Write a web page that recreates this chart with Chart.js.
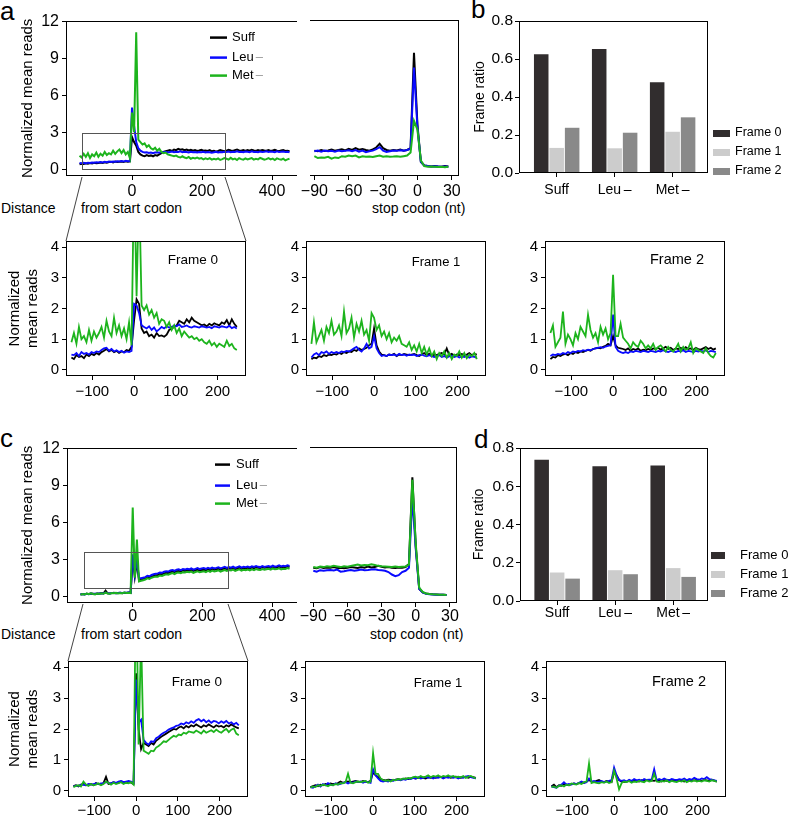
<!DOCTYPE html>
<html>
<head>
<meta charset="utf-8">
<script src="https://cdn.jsdelivr.net/npm/chart.js@4.4.0/dist/chart.umd.min.js"></script>
<style>
  html, body { margin: 0; padding: 0; background: #fff; overflow: hidden; }
  #fig { position: relative; width: 789px; height: 815px; font-family: "Liberation Sans", Arial, sans-serif; color: #000; }
  #fig canvas { position: absolute; }
  #fig svg { position: absolute; left: 0; top: 0; }
  .lbl { position: absolute; line-height: 1; white-space: nowrap; }
</style>
</head>
<body>
<div id="fig">
  <svg width="789" height="815">
    <g stroke="#444" stroke-width="1" fill="none">
      <line x1="82" y1="177" x2="66" y2="241" />
      <line x1="225" y1="177" x2="246" y2="241" />
      <line x1="83" y1="604" x2="68" y2="661" />
      <line x1="228" y1="604" x2="248" y2="661" />
    </g>
  </svg>
  <div class="lbl" style="left:0px;top:-2px;font-size:26px">a</div>
  <div class="lbl" style="left:471px;top:-4px;font-size:26px">b</div>
  <div class="lbl" style="left:0px;top:425px;font-size:26px">c</div>
  <div class="lbl" style="left:474px;top:426px;font-size:26px">d</div>
  <div class="lbl" style="left:1px;top:201px;font-size:14px">Distance</div>
  <div class="lbl" style="left:81px;top:201px;font-size:14px">from start codon</div>
  <div class="lbl" style="left:372px;top:201px;font-size:14px">stop codon (nt)</div>
  <div class="lbl" style="left:1px;top:627px;font-size:14px">Distance</div>
  <div class="lbl" style="left:81px;top:627px;font-size:14px">from start codon</div>
  <div class="lbl" style="left:370px;top:627px;font-size:14px">stop codon (nt)</div>
</div>
<script>
// ---- categories, names, ticks ----
const strains = ['Suff', 'Leu', 'Met'];
const strainLabels = ['Suff', 'Leu\u2009\u2013', 'Met\u2009\u2013'];
const strainPos = [1, 2, 3];
const frameNames = ['Frame 0', 'Frame 1', 'Frame 2'];

const startTicks = [0, 200, 400];
const stopTicks = [-90, -60, -30, 0, 30];
const frameTicks = [-100, 0, 100, 200];
const readTicks = [0, 3, 6, 9, 12];
const frameReadTicks = [0, 1, 2, 3, 4];
const ratioTicks = [0, 0.2, 0.4, 0.6, 0.8];

// nt positions
const startX = [-150,-144,-138,-132,-126,-120,-114,-108,-102,-96,-90,-84,-78,-72,-66,-60,-54,-48,-42,-36,
  -30,-24,-18,-12,-6,0,6,12,18,24,30,36,42,48,54,60,66,72,78,84,90,96,102,108,114,120,126,132,138,144,
  150,156,162,168,174,180,186,192,198,204,210,216,222,228,234,240,246,252,258,264,270,276,282,288,294,
  300,306,312,318,324,330,336,342,348,354,360,366,372,378,384,390,396,402,408,414,420,426,432,438,444,450];
const frameX = [-150,-144,-138,-132,-126,-120,-114,-108,-102,-96,-90,-84,-78,-72,-66,-60,-54,-48,-42,-36,
  -30,-24,-18,-12,-6,0,6,12,18,24,30,36,42,48,54,60,66,72,78,84,90,96,102,108,114,120,126,132,138,144,
  150,156,162,168,174,180,186,192,198,204,210,216,222,228,234,240,246];
const stopX = [-90,-87,-84,-81,-78,-75,-72,-69,-66,-63,-60,-57,-54,-51,-48,-45,-42,-39,-36,-33,
  -30,-27,-24,-21,-18,-15,-12,-9,-6,-3,0,3,6,9,12,15,18,21,24,27];

// ---- panel a, start codon ----
const aStartSuff = [0.40,0.45,0.42,0.48,0.44,0.50,0.46,0.52,0.48,0.50,
  0.55,0.50,0.56,0.52,0.58,0.60,0.55,0.62,0.58,0.60,
  0.62,0.58,0.65,0.60,0.64, 2.6,2.2,1.9,1.4,1.2,
  1.10,1.05,1.15,1.08,1.12,1.05,1.15,1.10,1.20,1.30,
  1.40,1.45,1.50,1.55,1.48,1.60,1.55,1.65,1.58,1.62,
  1.55,1.60,1.52,1.58,1.50,1.55,1.48,1.52,1.58,1.50,
  1.52,1.48,1.55,1.45,1.50,1.42,1.48,1.55,1.50,1.45,
  1.50,1.58,1.52,1.48,1.55,1.60,1.52,1.50,1.56,1.48,
  1.55,1.50,1.58,1.52,1.48,1.55,1.50,1.56,1.52,1.50,
  1.55,1.48,1.52,1.58,1.50,1.46,1.52,1.55,1.48,1.50,1.45];
const aStartLeu = [0.50,0.48,0.52,0.47,0.53,0.50,0.55,0.52,0.56,0.54,
  0.58,0.55,0.60,0.57,0.62,0.58,0.63,0.60,0.65,0.62,
  0.66,0.62,0.68,0.64,0.66, 5.0,3.5,2.2,1.7,1.5,
  1.40,1.35,1.38,1.32,1.36,1.30,1.35,1.38,1.34,1.40,
  1.38,1.42,1.36,1.40,1.44,1.38,1.42,1.40,1.45,1.38,
  1.42,1.40,1.36,1.42,1.38,1.40,1.35,1.40,1.38,1.42,
  1.36,1.40,1.38,1.34,1.38,1.42,1.36,1.40,1.38,1.42,
  1.40,1.44,1.38,1.42,1.40,1.45,1.40,1.42,1.38,1.44,
  1.42,1.38,1.45,1.40,1.42,1.38,1.44,1.40,1.42,1.45,
  1.40,1.44,1.42,1.38,1.45,1.40,1.42,1.44,1.40,1.42,1.38];
const aStartMet = [1.10,0.95,1.25,1.00,1.30,0.90,1.20,1.05,1.35,1.00,
  1.25,1.10,1.40,1.15,1.30,1.20,1.50,1.25,1.45,1.60,
  1.30,1.55,1.20,1.40,0.90, 4.6,3.0,11.1,2.4,2.2,
  2.00,2.10,1.80,1.95,1.70,1.60,1.75,1.50,1.65,1.40,
  1.30,1.35,1.20,1.15,1.10,1.05,1.10,1.00,0.95,1.05,
  0.95,0.90,1.00,0.85,0.92,0.88,0.95,0.85,0.90,0.80,
  0.88,0.82,0.90,0.78,0.85,0.80,0.88,0.75,0.82,0.90,
  0.85,0.78,0.92,0.80,0.86,0.75,0.90,0.82,0.78,0.88,
  0.80,0.85,0.90,0.78,0.84,0.80,0.92,0.85,0.78,0.82,
  0.90,0.80,0.86,0.75,0.88,0.82,0.78,0.85,0.72,0.80,0.85];

// ---- panel a, stop codon ----
const aStopSuff = [1.50,1.45,1.55,1.48,1.52,1.58,1.50,1.55,1.60,1.52,
  1.65,1.55,1.70,1.58,1.62,1.55,1.50,1.60,1.75,2.05,
  1.70,1.55,1.50,1.55,1.52,1.58,1.50,1.55,1.70,9.4,
  3.6,0.6,0.3,0.25,0.22,0.25,0.22,0.20,0.25,0.22];
const aStopLeu = [1.45,1.50,1.42,1.50,1.45,1.48,1.42,1.50,1.45,1.48,
  1.52,1.45,1.55,1.42,1.50,1.38,1.45,1.50,1.62,1.78,
  1.50,1.40,1.45,1.50,1.48,1.52,1.50,1.55,1.65,8.2,
  3.4,0.6,0.3,0.25,0.22,0.24,0.22,0.20,0.22,0.20];
const aStopMet = [1.05,0.90,0.95,0.92,1.00,0.85,0.95,0.90,1.05,1.00,
  1.10,1.05,1.10,0.95,1.05,1.00,1.02,0.98,1.05,1.10,
  1.00,1.05,1.00,1.02,1.05,1.00,1.05,1.10,1.35,3.9,
  3.2,0.7,0.25,0.20,0.22,0.20,0.18,0.20,0.15,0.20];

// ---- panel a, frames ----
const aF0Suff = [0.40,0.35,0.48,0.42,0.45,0.38,0.50,0.45,0.52,0.48,
  0.55,0.50,0.58,0.62,0.68,0.60,0.65,0.58,0.62,0.55,
  0.60,0.58,0.65,0.62,0.75, 1.6,2.3,2.15,1.35,1.20,
  1.25,1.10,1.15,1.05,1.20,1.10,1.12,1.08,1.15,1.30,
  1.35,1.40,1.45,1.60,1.55,1.50,1.65,1.55,1.70,1.60,
  1.55,1.50,1.45,1.48,1.42,1.50,1.45,1.52,1.48,1.45,
  1.55,1.50,1.62,1.45,1.65,1.50,1.40];
const aF0Leu = [0.50,0.48,0.55,0.45,0.58,0.52,0.55,0.50,0.58,0.55,
  0.60,0.58,0.65,0.70,0.72,0.62,0.68,0.60,0.64,0.58,
  0.62,0.56,0.60,0.58,0.62, 2.15,2.1,1.85,1.45,1.40,
  1.35,1.42,1.30,1.38,1.25,1.32,1.40,1.35,1.42,1.38,
  1.40,1.45,1.42,1.48,1.40,1.42,1.45,1.40,1.38,1.42,
  1.40,1.38,1.42,1.40,1.38,1.40,1.36,1.42,1.40,1.38,
  1.42,1.40,1.38,1.44,1.36,1.40,1.35];
const aF0Met = [0.90,1.20,0.85,1.40,1.00,1.10,0.90,1.30,0.95,1.25,
  1.05,1.20,1.40,1.05,1.60,1.25,1.10,1.70,1.20,1.45,
  1.10,1.35,1.00,1.55,0.80, 6.5,2.4,6.0,2.10,1.95,
  2.10,1.80,1.95,1.70,1.85,1.50,1.65,1.60,1.40,1.55,
  1.30,1.45,1.20,1.35,1.10,1.25,1.15,1.05,1.10,1.00,
  1.05,0.95,1.00,0.90,0.85,0.95,0.80,0.88,0.75,0.85,
  0.80,0.75,0.95,0.78,0.85,0.70,0.65];

const aF1Suff = [0.35,0.40,0.38,0.45,0.42,0.48,0.45,0.50,0.48,0.52,
  0.50,0.55,0.52,0.58,0.55,0.60,0.58,0.65,0.62,0.70,
  0.65,0.68,0.72,0.80,0.85, 1.35,0.80,0.60,0.50,0.48,
  0.45,0.50,0.48,0.52,0.45,0.50,0.48,0.52,0.50,0.48,
  0.50,0.52,0.48,0.45,0.50,0.55,0.48,0.52,0.45,0.50,
  0.48,0.52,0.55,0.50,0.70,0.48,0.52,0.45,0.50,0.48,
  0.52,0.48,0.50,0.55,0.48,0.52,0.50];
const aF1Leu = [0.40,0.50,0.55,0.48,0.58,0.55,0.60,0.52,0.58,0.55,
  0.58,0.55,0.60,0.58,0.62,0.60,0.65,0.70,0.75,0.65,
  0.60,0.70,0.85,0.70,0.75, 1.10,0.70,0.55,0.45,0.48,
  0.45,0.50,0.48,0.50,0.46,0.52,0.48,0.50,0.46,0.50,
  0.48,0.50,0.45,0.48,0.50,0.46,0.44,0.48,0.45,0.42,
  0.45,0.48,0.42,0.45,0.40,0.44,0.46,0.42,0.45,0.40,
  0.44,0.42,0.46,0.40,0.44,0.42,0.40];
const aF1Met = [0.85,1.55,0.90,1.10,1.30,0.95,1.40,1.20,1.60,1.15,
  1.25,1.45,1.10,1.90,1.20,1.35,1.70,1.05,1.50,1.25,
  1.60,1.15,1.30,0.95,1.85, 1.70,1.30,1.45,1.10,1.25,
  1.00,1.20,0.90,1.05,0.95,1.10,0.85,0.80,0.75,0.90,
  0.65,0.80,0.60,0.85,0.55,0.75,0.50,0.70,0.45,0.60,
  0.35,0.55,0.45,0.60,0.40,0.55,0.35,0.50,0.45,0.60,
  0.40,0.55,0.38,0.50,0.45,0.55,0.35];

const aF2Suff = [0.35,0.42,0.40,0.48,0.45,0.50,0.52,0.48,0.55,0.52,
  0.58,0.55,0.60,0.58,0.62,0.65,0.62,0.68,0.70,0.72,
  0.70,0.75,0.78,0.85,0.80, 1.10,0.80,0.72,0.70,0.68,
  0.65,0.70,0.62,0.68,0.65,0.70,0.62,0.66,0.64,0.68,
  0.65,0.70,0.68,0.72,0.66,0.70,0.75,0.68,0.72,0.65,
  0.70,0.68,0.72,0.66,0.74,0.68,0.70,0.65,0.72,0.68,
  0.66,0.70,0.74,0.68,0.72,0.66,0.70];
const aF2Leu = [0.45,0.50,0.48,0.52,0.50,0.55,0.52,0.58,0.55,0.60,
  0.58,0.62,0.60,0.64,0.62,0.66,0.64,0.68,0.70,0.72,
  0.74,0.72,0.76,0.78,0.80, 1.80,0.75,0.62,0.58,0.55,
  0.58,0.55,0.60,0.58,0.62,0.60,0.58,0.62,0.60,0.58,
  0.62,0.60,0.58,0.62,0.60,0.64,0.60,0.58,0.62,0.60,
  0.58,0.62,0.60,0.64,0.58,0.62,0.60,0.58,0.62,0.60,
  0.62,0.60,0.64,0.58,0.62,0.60,0.58];
const aF2Met = [1.20,1.45,0.75,0.90,1.05,1.90,0.85,1.15,1.00,0.80,
  1.20,1.00,1.40,1.25,1.10,1.80,1.30,1.05,1.20,0.90,
  1.40,1.15,1.35,1.00,1.20, 3.10,1.10,1.10,1.50,1.05,
  0.95,0.85,0.70,0.90,0.80,0.75,0.95,0.85,0.70,0.80,
  0.70,0.85,0.65,0.75,0.80,0.70,0.60,0.75,0.65,0.60,
  0.70,0.85,0.60,0.75,0.65,0.70,0.90,0.55,0.70,0.65,
  0.60,0.55,0.70,0.55,0.45,0.40,0.55];

// ---- panel b ----
const bFrame0 = [0.625, 0.652, 0.478];
const bFrame1 = [0.132, 0.130, 0.217];
const bFrame2 = [0.238, 0.212, 0.293];

// ---- panel c, start codon ----
const cStartSuff = [0.15,0.18,0.16,0.20,0.18,0.22,0.20,0.18,0.22,0.20,
  0.25,0.22,0.45,0.24,0.22,0.25,0.28,0.24,0.26,0.28,
  0.25,0.28,0.26,0.30,0.28, 3.2,1.6,2.8,1.3,1.35,
  1.40,1.45,1.55,1.50,1.60,1.65,1.70,1.72,1.80,1.78,
  1.85,1.90,1.88,1.95,2.00,1.95,2.02,2.05,2.00,2.08,
  2.05,2.10,2.08,2.12,2.05,2.10,2.15,2.08,2.12,2.15,
  2.10,2.18,2.12,2.20,2.15,2.18,2.22,2.15,2.20,2.25,
  2.20,2.25,2.22,2.28,2.20,2.25,2.30,2.22,2.28,2.25,
  2.30,2.25,2.32,2.28,2.35,2.30,2.28,2.35,2.30,2.32,
  2.35,2.30,2.38,2.32,2.35,2.40,2.33,2.38,2.35,2.40,2.36];
const cStartLeu = [0.14,0.17,0.15,0.19,0.17,0.21,0.19,0.20,0.21,0.22,
  0.22,0.24,0.28,0.25,0.23,0.26,0.27,0.25,0.27,0.29,
  0.27,0.29,0.28,0.30,0.29, 3.4,1.8,3.0,1.45,1.45,
  1.50,1.55,1.65,1.62,1.72,1.78,1.82,1.85,1.92,1.90,
  1.98,2.02,2.00,2.08,2.12,2.06,2.15,2.18,2.12,2.20,
  2.16,2.22,2.18,2.25,2.15,2.22,2.28,2.20,2.24,2.28,
  2.22,2.30,2.24,2.32,2.26,2.30,2.35,2.26,2.32,2.38,
  2.30,2.36,2.32,2.40,2.30,2.36,2.42,2.32,2.38,2.35,
  2.40,2.34,2.42,2.38,2.45,2.38,2.36,2.44,2.38,2.42,
  2.45,2.38,2.48,2.40,2.44,2.50,2.42,2.46,2.44,2.50,2.45];
const cStartMet = [0.12,0.18,0.14,0.22,0.16,0.24,0.18,0.15,0.22,0.18,
  0.24,0.20,0.30,0.22,0.20,0.26,0.24,0.28,0.22,0.26,
  0.24,0.30,0.26,0.28,0.25, 7.2,1.5,4.6,1.2,1.25,
  1.30,1.35,1.45,1.40,1.50,1.55,1.60,1.58,1.68,1.65,
  1.72,1.78,1.75,1.82,1.88,1.80,1.90,1.92,1.86,1.95,
  1.92,1.98,1.94,2.00,1.90,1.96,2.02,1.94,1.98,2.02,
  1.96,2.05,1.98,2.08,2.00,2.04,2.10,2.00,2.06,2.12,
  2.05,2.12,2.08,2.15,2.05,2.12,2.18,2.08,2.14,2.10,
  2.16,2.10,2.18,2.12,2.20,2.14,2.12,2.20,2.14,2.18,
  2.22,2.15,2.25,2.18,2.20,2.26,2.18,2.22,2.20,2.28,2.22];

// ---- panel c, stop codon ----
const cStopSuff = [2.30,2.25,2.35,2.28,2.32,2.30,2.35,2.28,2.30,2.25,
  2.30,2.35,2.32,2.28,2.35,2.30,2.40,2.32,2.35,2.45,
  2.38,2.32,2.35,2.30,2.28,2.32,2.30,2.35,2.60,9.6,
  4.0,0.6,0.3,0.22,0.18,0.15,0.14,0.12,0.12,0.10];
const cStopLeu = [2.05,1.98,2.10,2.05,2.10,2.12,2.08,2.15,1.98,2.02,
  2.08,2.12,2.05,2.10,2.15,2.10,2.12,2.15,2.18,2.12,
  2.10,2.05,1.95,1.75,1.62,1.70,1.95,2.05,2.30,8.0,
  3.8,0.6,0.3,0.20,0.16,0.14,0.12,0.12,0.11,0.10];
const cStopMet = [2.35,2.30,2.40,2.35,2.42,2.38,2.45,2.40,2.35,2.42,
  2.38,2.45,2.50,2.55,2.48,2.52,2.50,2.58,2.52,2.45,
  2.42,2.40,2.38,2.35,2.40,2.35,2.38,2.40,2.55,9.4,
  4.2,0.7,0.35,0.22,0.18,0.15,0.14,0.12,0.12,0.10];

// ---- panel c, frames ----
const cF0Suff = [0.15,0.18,0.14,0.20,0.22,0.18,0.20,0.22,0.18,0.25,
  0.22,0.20,0.25,0.45,0.22,0.24,0.28,0.25,0.26,0.30,
  0.28,0.25,0.30,0.26,0.22, 3.8,2.0,1.35,1.55,1.50,
  1.45,1.55,1.50,1.62,1.68,1.75,1.80,1.85,1.90,1.95,
  2.00,1.98,2.05,2.08,2.02,2.10,2.05,2.12,2.08,2.15,
  2.10,2.05,2.12,2.08,2.15,2.10,2.05,2.12,2.08,2.10,
  2.05,2.12,2.08,2.15,2.10,2.05,2.02];
const cF0Leu = [0.14,0.17,0.16,0.19,0.20,0.18,0.22,0.20,0.22,0.24,
  0.22,0.24,0.25,0.28,0.26,0.24,0.28,0.26,0.30,0.32,
  0.28,0.30,0.32,0.30,0.26, 3.6,2.2,2.3,1.65,1.55,
  1.50,1.60,1.58,1.70,1.75,1.82,1.88,1.92,1.98,2.02,
  2.05,2.10,2.12,2.18,2.15,2.22,2.18,2.25,2.20,2.28,
  2.32,2.25,2.30,2.22,2.28,2.20,2.26,2.24,2.18,2.25,
  2.20,2.26,2.18,2.22,2.15,2.20,2.12];
const cF0Met = [0.12,0.16,0.18,0.14,0.30,0.20,0.16,0.22,0.18,0.20,
  0.24,0.18,0.22,0.30,0.25,0.20,0.26,0.22,0.25,0.28,
  0.22,0.26,0.24,0.28,0.20, 7.0,1.5,5.0,1.30,1.25,
  1.20,1.30,1.28,1.40,1.45,1.52,1.60,1.58,1.65,1.72,
  1.78,1.75,1.82,1.80,1.88,1.85,1.92,1.90,1.88,1.95,
  1.90,1.85,1.95,1.88,1.92,1.96,1.90,1.98,1.92,1.88,
  1.95,2.00,1.90,1.98,2.02,1.85,1.80];

const cF1Suff = [0.12,0.15,0.18,0.15,0.20,0.18,0.22,0.20,0.24,0.22,
  0.22,0.25,0.30,0.26,0.28,0.30,0.28,0.30,0.32,0.30,
  0.28,0.32,0.30,0.28,0.32, 0.60,0.50,0.45,0.38,0.35,
  0.34,0.36,0.35,0.34,0.36,0.38,0.36,0.38,0.40,0.38,
  0.40,0.42,0.40,0.42,0.44,0.42,0.40,0.44,0.42,0.44,
  0.42,0.44,0.46,0.42,0.44,0.46,0.42,0.44,0.46,0.44,
  0.42,0.44,0.46,0.42,0.45,0.44,0.42];
const cF1Leu = [0.12,0.10,0.15,0.20,0.14,0.22,0.18,0.25,0.20,0.18,
  0.24,0.20,0.22,0.26,0.28,0.24,0.28,0.26,0.30,0.28,
  0.30,0.26,0.30,0.28,0.26, 0.70,0.50,0.40,0.32,0.30,
  0.32,0.30,0.34,0.32,0.35,0.36,0.34,0.38,0.36,0.40,
  0.38,0.42,0.40,0.44,0.40,0.42,0.45,0.42,0.44,0.40,
  0.44,0.42,0.45,0.40,0.44,0.42,0.46,0.42,0.44,0.40,
  0.44,0.42,0.46,0.48,0.44,0.42,0.40];
const cF1Met = [0.10,0.14,0.12,0.18,0.16,0.20,0.18,0.15,0.20,0.18,
  0.22,0.20,0.25,0.24,0.28,0.55,0.26,0.24,0.28,0.30,
  0.28,0.30,0.32,0.26,0.30, 1.22,0.55,0.55,0.40,0.35,
  0.32,0.34,0.30,0.36,0.34,0.38,0.36,0.40,0.38,0.42,
  0.40,0.44,0.46,0.42,0.48,0.44,0.46,0.50,0.44,0.48,
  0.46,0.50,0.44,0.48,0.46,0.50,0.45,0.48,0.44,0.46,
  0.44,0.48,0.42,0.46,0.48,0.44,0.40];

const cF2Suff = [0.15,0.20,0.12,0.18,0.16,0.22,0.20,0.18,0.22,0.24,
  0.22,0.25,0.28,0.26,0.30,0.35,0.30,0.28,0.32,0.35,
  0.30,0.28,0.32,0.30,0.28, 0.60,0.50,0.35,0.30,0.28,
  0.30,0.32,0.30,0.34,0.32,0.30,0.34,0.32,0.35,0.32,
  0.34,0.32,0.35,0.33,0.30,0.34,0.32,0.35,0.33,0.34,
  0.32,0.35,0.33,0.30,0.34,0.32,0.35,0.33,0.36,0.34,
  0.32,0.35,0.34,0.32,0.36,0.33,0.30];
const cF2Leu = [0.14,0.12,0.10,0.16,0.20,0.28,0.20,0.22,0.20,0.24,
  0.22,0.26,0.30,0.25,0.28,0.40,0.30,0.32,0.28,0.30,
  0.32,0.28,0.30,0.32,0.35, 0.75,0.50,0.35,0.32,0.34,
  0.30,0.36,0.32,0.38,0.34,0.36,0.32,0.38,0.35,0.36,
  0.36,0.70,0.34,0.38,0.35,0.40,0.36,0.34,0.38,0.36,
  0.35,0.38,0.36,0.40,0.34,0.38,0.36,0.42,0.38,0.36,
  0.40,0.38,0.44,0.38,0.36,0.34,0.32];
const cF2Met = [0.12,0.14,0.10,0.16,0.18,0.14,0.20,0.18,0.24,0.22,
  0.20,0.25,0.22,0.28,0.30,0.88,0.25,0.28,0.26,0.24,
  0.28,0.26,0.30,0.25,0.28, 0.65,0.40,0.05,0.25,0.30,
  0.28,0.32,0.26,0.30,0.28,0.32,0.30,0.28,0.34,0.30,
  0.32,0.55,0.30,0.28,0.32,0.30,0.34,0.28,0.32,0.30,
  0.28,0.32,0.30,0.34,0.28,0.32,0.30,0.34,0.30,0.32,
  0.30,0.34,0.32,0.30,0.34,0.32,0.30];

// ---- panel d ----
const dFrame0 = [0.739, 0.704, 0.709];
const dFrame1 = [0.149, 0.161, 0.172];
const dFrame2 = [0.117, 0.140, 0.126];

// ---- styles ----
const SANS = '"Liberation Sans", Arial, sans-serif';
const lineColors = ['#000000', '#0a0aff', '#1db41d'];
const barColors = ['#312d2e', '#cccccc', '#898989'];
const fmt = v => (v < 0 ? '\u2212' + Math.abs(v) : String(v));

const fig = document.getElementById('fig');

function mkCanvas(box, pad) {
  const cv = document.createElement('canvas');
  cv.width = pad.l + box.R - box.L + pad.r;
  cv.height = pad.t + box.B - box.T + pad.b;
  cv.style.left = (box.L - pad.l) + 'px';
  cv.style.top = (box.T - pad.t) + 'px';
  fig.appendChild(cv);
  return cv;
}

// frame lines round the plot area, only the sides asked for
const boxPlugin = {
  id: 'box',
  afterDraw(chart, args, o) {
    const s = o.sides || '';
    const a = chart.chartArea, c = chart.ctx;
    const l = Math.round(a.left) + 0.5, r = Math.round(a.right) - 0.5;
    const t = Math.round(a.top) + 0.5, b = Math.round(a.bottom) - 0.5;
    c.save();
    c.strokeStyle = '#000';
    c.lineWidth = 1;
    c.beginPath();
    if (s.includes('l')) { c.moveTo(l, t - 0.5); c.lineTo(l, b + 0.5); }
    if (s.includes('r')) { c.moveTo(r, t - 0.5); c.lineTo(r, b + 0.5); }
    if (s.includes('t')) { c.moveTo(a.left, t); c.lineTo(a.right, t); }
    if (s.includes('b')) { c.moveTo(a.left, b); c.lineTo(a.right, b); }
    c.stroke();
    c.restore();
  }
};

// legend of the start codon plots
const keyPlugin = {
  id: 'key',
  afterDraw(chart, args, o) {
    if (!o.rows) return;
    const a = chart.chartArea, c = chart.ctx;
    c.save();
    c.font = o.size + 'px ' + SANS;
    c.textBaseline = 'middle';
    c.textAlign = 'left';
    strains.forEach((name, k) => {
      const y = a.top + o.rows[k];
      c.strokeStyle = lineColors[k];
      c.lineWidth = 2.5;
      c.beginPath();
      c.moveTo(a.left + o.x0, y);
      c.lineTo(a.left + o.x1, y);
      c.stroke();
      c.fillStyle = '#000';
      c.fillText(name, a.left + o.tx, y);
      if (k > 0) {
        const w = c.measureText(name).width;
        c.fillStyle = '#999';
        c.fillText('\u2013', a.left + o.tx + w + 2, y);
      }
    });
    c.restore();
  }
};

// zoomed window marked on the start codon plots
const zoomBoxPlugin = {
  id: 'zoomBox',
  afterDatasetsDraw(chart, args, o) {
    if (o.x0 === undefined) return;
    const xs = chart.scales.x, ys = chart.scales.y, c = chart.ctx;
    const x0 = Math.round(xs.getPixelForValue(o.x0)) + 0.5;
    const x1 = Math.round(xs.getPixelForValue(o.x1)) + 0.5;
    const y0 = Math.round(ys.getPixelForValue(o.y0)) + 0.5;
    const y1 = Math.round(ys.getPixelForValue(o.y1)) + 0.5;
    c.save();
    c.strokeStyle = '#555';
    c.lineWidth = 1;
    c.strokeRect(x0, y1, x1 - x0, y0 - y1);
    c.restore();
  }
};

// "Frame n" caption inside a plot
const tagPlugin = {
  id: 'tag',
  afterDraw(chart, args, o) {
    if (!o.text) return;
    const a = chart.chartArea, c = chart.ctx;
    c.save();
    c.font = o.size + 'px ' + SANS;
    c.fillStyle = '#000';
    c.textAlign = 'center';
    c.textBaseline = 'middle';
    c.fillText(o.text, a.left + o.dx, a.top + o.dy);
    c.restore();
  }
};

// legend beside the bar charts
const barKeyPlugin = {
  id: 'barKey',
  afterDraw(chart, args, o) {
    if (!o.rows) return;
    const a = chart.chartArea, c = chart.ctx;
    c.save();
    c.font = o.size + 'px ' + SANS;
    c.textBaseline = 'middle';
    c.textAlign = 'left';
    frameNames.forEach((name, k) => {
      const y = a.top + o.rows[k];
      c.fillStyle = barColors[k];
      c.fillRect(a.right + o.dx, Math.round(y - o.h / 2), o.w, o.h);
      c.fillStyle = '#000';
      c.fillText(name, a.right + o.tx, y);
    });
    c.restore();
  }
};

function axis(o, horizontal, pad) {
  const shown = o.show !== false;
  return {
    type: 'linear',
    display: shown,
    min: o.min,
    max: o.max,
    offset: false,
    afterBuildTicks: s => { s.ticks = o.ticks.map(v => ({ value: v })); },
    afterFit: s => {
      if (horizontal) s.height = pad.b;
      else s.width = shown ? pad.l : 0;
    },
    grid: { display: true, drawOnChartArea: false, drawTicks: true, tickLength: 4, color: '#000', offset: false },
    border: { display: false },
    ticks: {
      font: { family: SANS, size: o.size },
      color: '#000',
      padding: o.tp,
      autoSkip: false,
      maxRotation: 0,
      callback: o.fmt || fmt
    },
    title: o.title
      ? { display: true, text: o.title, color: '#000', font: { family: SANS, size: o.tsize }, padding: { top: o.tpad, bottom: 0 } }
      : { display: false }
  };
}

function lineChart(spec) {
  const cv = mkCanvas(spec.box, spec.pad);
  const yShown = spec.y.show !== false;
  return new Chart(cv, {
    type: 'line',
    data: {
      datasets: spec.series.map((ys, k) => ({
        label: strains[k],
        data: spec.xs.map((x, i) => ({ x: x, y: ys[i] })),
        borderColor: lineColors[k],
        borderWidth: spec.lw,
        pointRadius: 0,
        tension: 0,
        fill: false,
        order: 2 - k
      }))
    },
    options: {
      responsive: false,
      animation: false,
      events: [],
      layout: { padding: { left: yShown ? 0 : spec.pad.l, right: spec.pad.r, top: spec.pad.t, bottom: 0 } },
      plugins: {
        legend: { display: false },
        tooltip: { enabled: false },
        box: { sides: spec.sides },
        key: spec.key || {},
        zoomBox: spec.zoom || {},
        tag: spec.tag || {}
      },
      scales: { x: axis(spec.x, true, spec.pad), y: axis(spec.y, false, spec.pad) }
    },
    plugins: [boxPlugin, keyPlugin, zoomBoxPlugin, tagPlugin]
  });
}

function barChart(spec) {
  const cv = mkCanvas(spec.box, spec.pad);
  return new Chart(cv, {
    type: 'bar',
    data: {
      datasets: spec.series.map((vals, k) => ({
        label: frameNames[k],
        data: strainPos.map((x, i) => ({ x: x, y: vals[i] })),
        backgroundColor: barColors[k],
        borderWidth: 0,
        barPercentage: 0.94,
        categoryPercentage: 0.8
      }))
    },
    options: {
      responsive: false,
      animation: false,
      events: [],
      layout: { padding: { left: 0, right: spec.pad.r, top: spec.pad.t, bottom: 0 } },
      plugins: {
        legend: { display: false },
        tooltip: { enabled: false },
        box: { sides: 'ltrb' },
        barKey: spec.key
      },
      scales: { x: axis(spec.x, true, spec.pad), y: axis(spec.y, false, spec.pad) }
    },
    plugins: [boxPlugin, barKeyPlugin]
  });
}

// ---- panel a ----
lineChart({
  box: { L: 66, T: 20, R: 297, B: 176 }, pad: { l: 66, t: 12, r: 4, b: 26 },
  xs: startX, series: [aStartSuff, aStartLeu, aStartMet], lw: 2, sides: 'ltb',
  x: { min: -188.6, max: 471.4, ticks: startTicks, size: 16, tp: 2 },
  y: { min: -0.55, max: 12.05, ticks: readTicks, size: 16, tp: 3, title: 'Normalized mean reads', tsize: 15, tpad: 19 },
  key: { rows: [17, 37, 55], x0: 144, x1: 161, tx: 166, size: 13 },
  zoom: { x0: -143, x1: 266, y0: 0, y1: 2.9 }
});
lineChart({
  box: { L: 310, T: 20, R: 459, B: 176 }, pad: { l: 15, t: 12, r: 10, b: 26 },
  xs: stopX, series: [aStopSuff, aStopLeu, aStopMet], lw: 2, sides: 'trb',
  x: { min: -93.8, max: 36.3, ticks: stopTicks, size: 16, tp: 2 },
  y: { min: -0.55, max: 12.05, ticks: readTicks, show: false }
});

const frameRow = (T, B, tp, Ls, sets, tags) => {
  Ls.forEach((L, j) => {
    lineChart({
      box: { L: L, T: T, R: L + 180, B: B }, pad: { l: j === 0 ? L : 40, t: 12, r: 6, b: 26 },
      xs: frameX, series: sets[j], lw: 1.8, sides: 'ltrb',
      x: { min: -163, max: 268, ticks: frameTicks, size: 15, tp: tp },
      y: j === 0
        ? { min: -0.2, max: 4.2, ticks: frameReadTicks, size: 15, tp: 3, title: ['Normalized', 'mean reads'], tsize: 15, tpad: 6 }
        : { min: -0.2, max: 4.2, ticks: frameReadTicks, size: 15, tp: 3 },
      tag: tags[j]
    });
  });
};

frameRow(241, 376, 3, [66, 306, 545],
  [[aF0Suff, aF0Leu, aF0Met], [aF1Suff, aF1Leu, aF1Met], [aF2Suff, aF2Leu, aF2Met]],
  [{ text: frameNames[0], dx: 127, dy: 19, size: 13.5 },
   { text: frameNames[1], dx: 130, dy: 21, size: 13 },
   { text: frameNames[2], dx: 132, dy: 19, size: 14.5 }]);

// ---- panel b ----
barChart({
  box: { L: 519, T: 21, R: 708, B: 173 }, pad: { l: 49, t: 12, r: 81, b: 30 },
  series: [bFrame0, bFrame1, bFrame2],
  x: { min: 0.35, max: 3.61, ticks: strainPos, size: 14, tp: 5, fmt: v => strainLabels[v - 1] },
  y: { min: 0, max: 0.8, ticks: ratioTicks, size: 15.5, tp: 2, fmt: v => v.toFixed(1), title: 'Frame ratio', tsize: 14, tpad: 1.6 },
  key: { rows: [112, 131, 150], dx: 5, w: 17, h: 7, tx: 27, size: 12.5 }
});

// ---- panel c ----
lineChart({
  box: { L: 67, T: 447, R: 297, B: 603 }, pad: { l: 67, t: 12, r: 4, b: 26 },
  xs: startX, series: [cStartSuff, cStartLeu, cStartMet], lw: 2, sides: 'ltb',
  x: { min: -188.6, max: 471.4, ticks: startTicks, size: 16, tp: 0 },
  y: { min: -0.55, max: 12.05, ticks: readTicks, size: 16, tp: 3, title: 'Normalized mean reads', tsize: 15, tpad: 19 },
  key: { rows: [17, 38, 56], x0: 148, x1: 163, tx: 169, size: 13 },
  zoom: { x0: -140, x1: 274, y0: 0.65, y1: 3.55 }
});
lineChart({
  box: { L: 310, T: 447, R: 457, B: 603 }, pad: { l: 15, t: 12, r: 10, b: 26 },
  xs: stopX, series: [cStopSuff, cStopLeu, cStopMet], lw: 2, sides: 'trb',
  x: { min: -92.9, max: 36.2, ticks: stopTicks, size: 16, tp: 0 },
  y: { min: -0.55, max: 12.05, ticks: readTicks, show: false }
});

frameRow(661, 797, 1, [68, 305, 546],
  [[cF0Suff, cF0Leu, cF0Met], [cF1Suff, cF1Leu, cF1Met], [cF2Suff, cF2Leu, cF2Met]],
  [{ text: frameNames[0], dx: 129, dy: 21, size: 13.5 },
   { text: frameNames[1], dx: 133, dy: 22, size: 13 },
   { text: frameNames[2], dx: 133, dy: 21, size: 14.5 }]);

// ---- panel d ----
barChart({
  box: { L: 520, T: 448, R: 708, B: 601 }, pad: { l: 50, t: 12, r: 81, b: 26 },
  series: [dFrame0, dFrame1, dFrame2],
  x: { min: 0.36, max: 3.60, ticks: strainPos, size: 14, tp: 0, fmt: v => strainLabels[v - 1] },
  y: { min: 0, max: 0.8, ticks: ratioTicks, size: 15.5, tp: 2, fmt: v => v.toFixed(1), title: 'Frame ratio', tsize: 14, tpad: 1.1 },
  key: { rows: [107, 126, 145], dx: 3, w: 14, h: 7, tx: 32, size: 13 }
});
</script>
</body>
</html>
